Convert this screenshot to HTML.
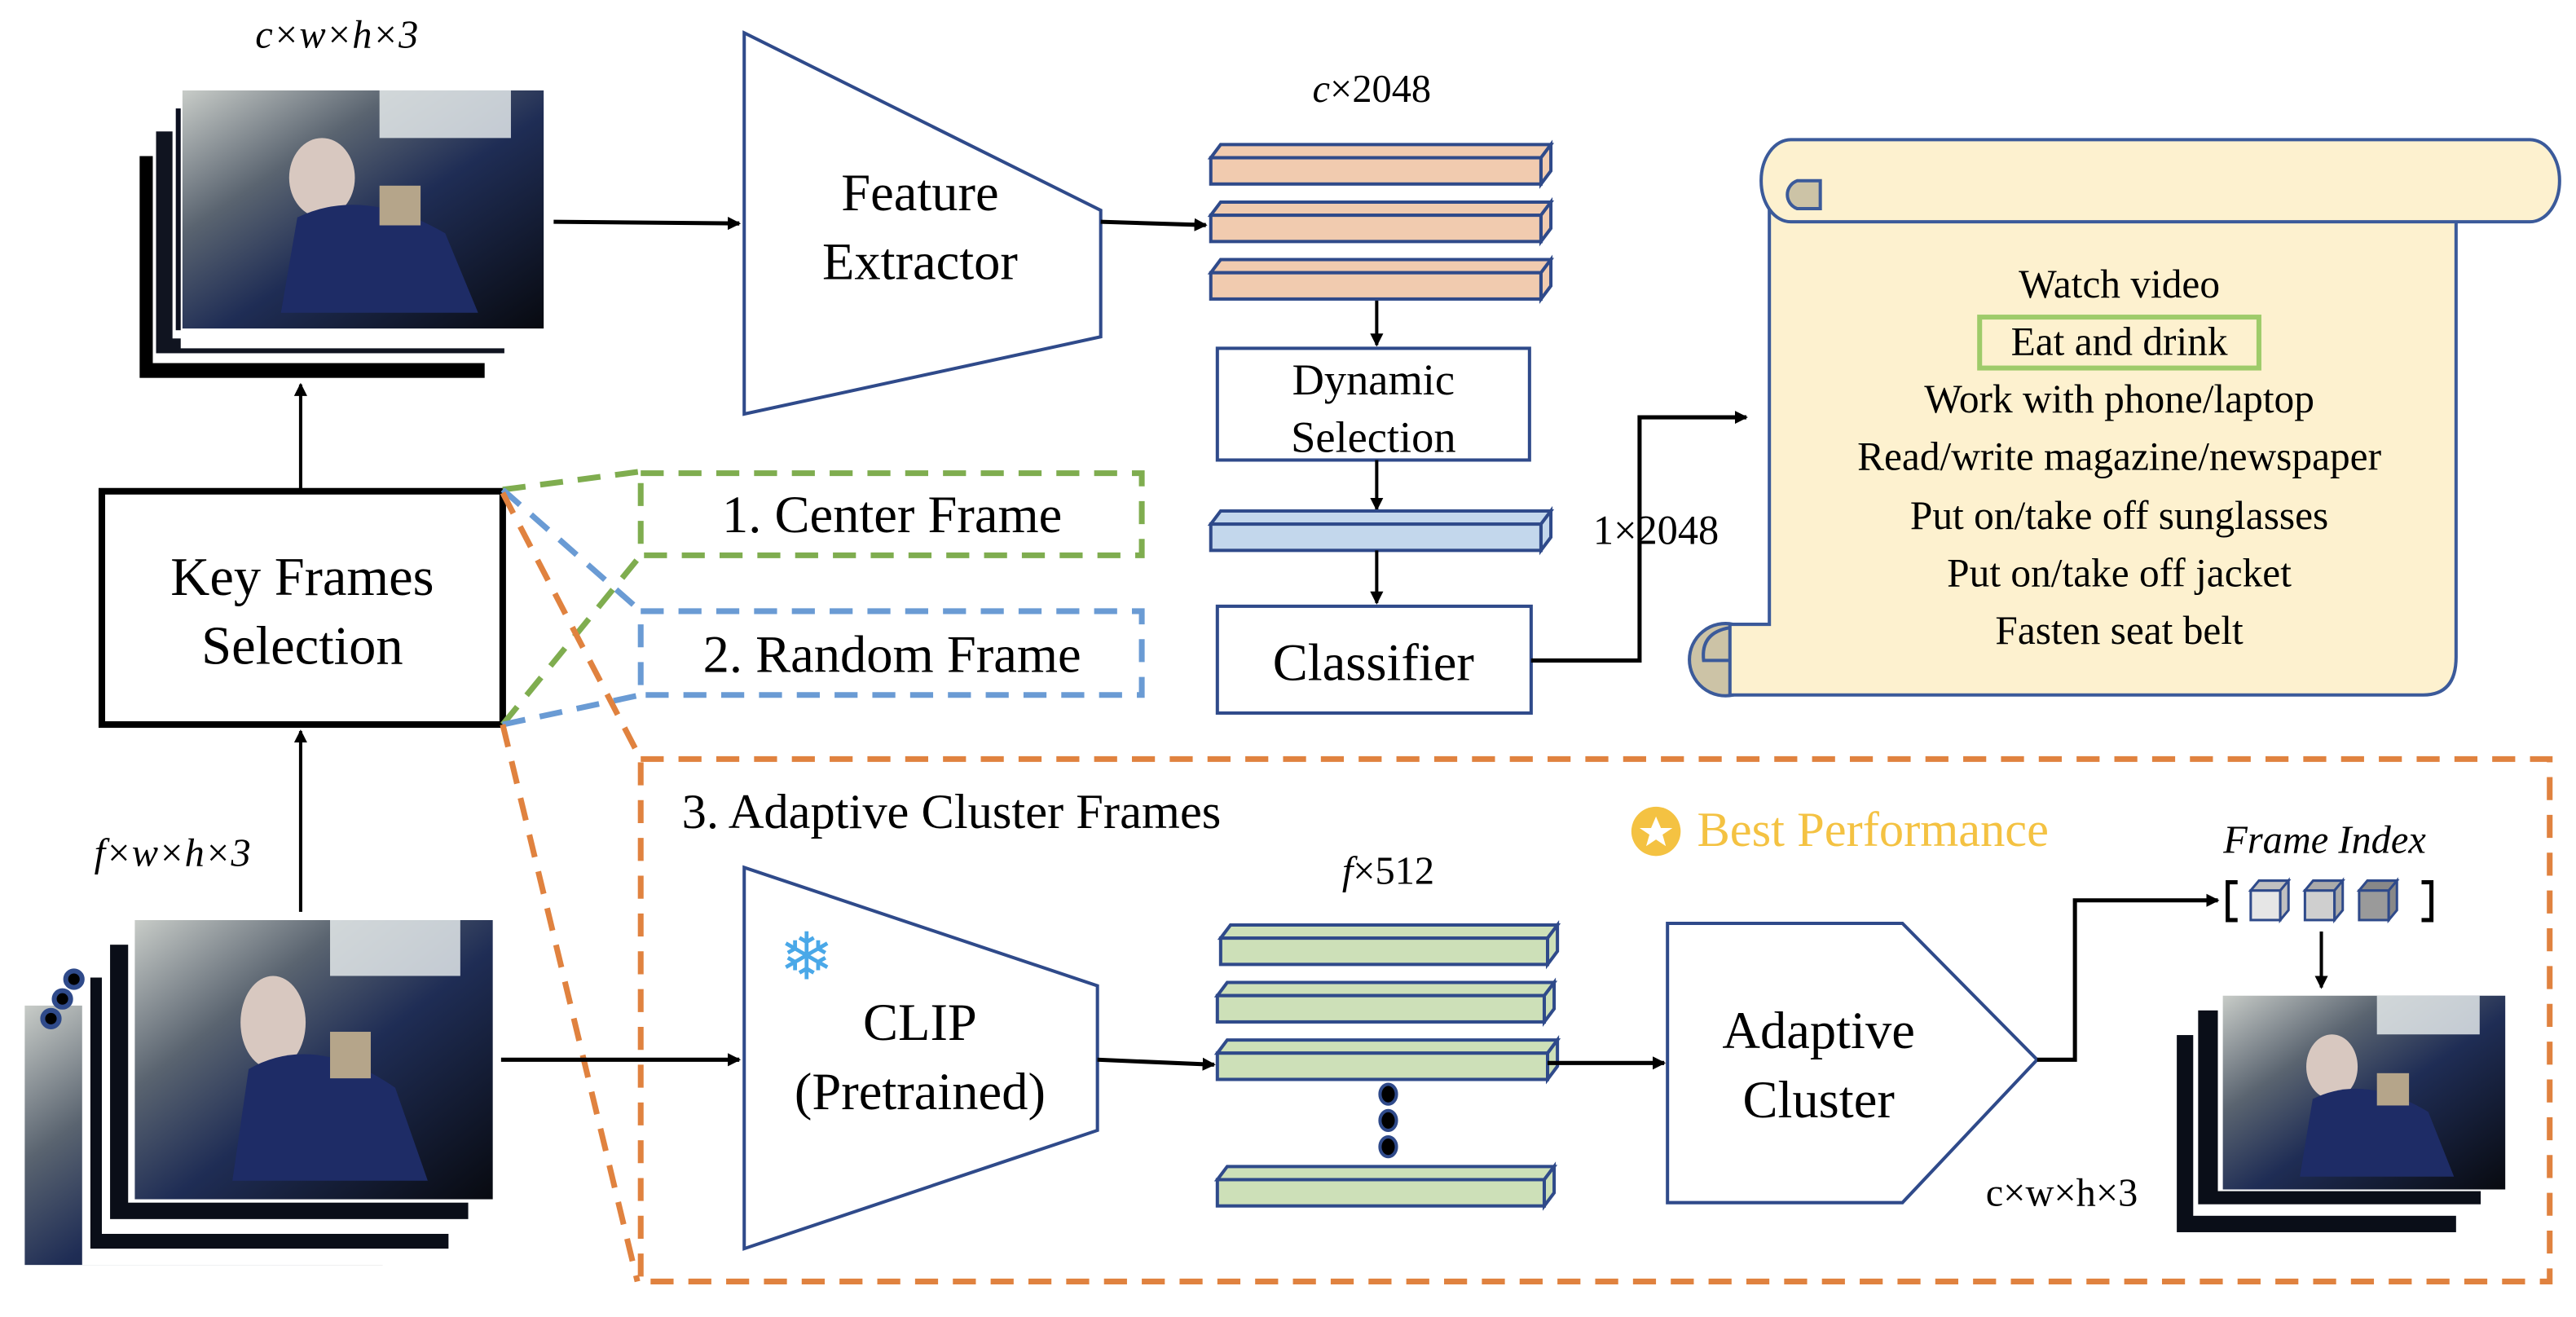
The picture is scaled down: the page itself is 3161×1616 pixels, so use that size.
<!DOCTYPE html>
<html><head><meta charset="utf-8"><style>html,body{margin:0;padding:0;background:#fff}svg{display:block}.s{font-family:"Liberation Serif",serif}.d{font-family:"DejaVu Sans",sans-serif}</style></head>
<body>
<svg width="3161" height="1616" viewBox="0 0 1568 801.6" xmlns="http://www.w3.org/2000/svg" style="font-family:'Liberation Serif',serif">
<defs>
<marker id="ah" markerWidth="8" markerHeight="8" refX="7" refY="4" orient="auto" markerUnits="userSpaceOnUse"><path d="M0,0 L8,4 L0,8 z" fill="#000"/></marker>
<linearGradient id="ph" x1="0" y1="0" x2="1" y2="1">
<stop offset="0" stop-color="#c8ccc8"/><stop offset="0.3" stop-color="#5a6470"/><stop offset="0.55" stop-color="#1f2d55"/><stop offset="1" stop-color="#080a10"/></linearGradient>
<symbol id="photo" viewBox="0 0 220 150" preserveAspectRatio="none">
<rect width="220" height="150" fill="url(#ph)"/>
<rect x="120" y="0" width="80" height="30" fill="#eef2f2" opacity="0.8"/>
<ellipse cx="85" cy="55" rx="20" ry="25" fill="#d8c8c0"/>
<path d="M70,80 Q110,60 160,90 L180,140 L60,140 Z" fill="#1e2c66"/>
<rect x="120" y="60" width="25" height="25" fill="#b5a58a"/>
</symbol>
</defs>

<g>
<rect x="85" y="95" width="210" height="135" fill="#000"/>
<rect x="93" y="88" width="210" height="133" fill="#fff"/>
<rect x="95" y="80" width="212" height="135" fill="#101420"/>
<rect x="105" y="73" width="210" height="133" fill="#fff"/>
<rect x="107" y="66" width="210" height="135" fill="#0c1020"/>
<rect x="110" y="62" width="220" height="150" fill="#fff"/>
<use href="#photo" x="111" y="55" width="220" height="145"/>
</g>
<text x="205" y="29" class="s" font-style="italic" font-size="24" text-anchor="middle">c×w×h×3</text>

<line x1="337" y1="135" x2="450" y2="136" stroke="#000" stroke-width="2.5" marker-end="url(#ah)"/>
<polygon points="453,20 670,128 670,205 453,252" fill="#fff" stroke="#2f4a8a" stroke-width="2"/>
<text x="560" y="128" class="s" font-size="32" text-anchor="middle">Feature</text>
<text x="560" y="170" class="s" font-size="32" text-anchor="middle">Extractor</text>
<line x1="670" y1="135" x2="734" y2="137" stroke="#000" stroke-width="2.5" marker-end="url(#ah)"/>
<text x="835" y="62" class="s" font-size="24" text-anchor="middle"><tspan font-style="italic">c</tspan>×2048</text>

<g stroke="#2f4a8a" stroke-width="2" fill="#f1cbaf">
<path d="M737,96 L743,88 L944,88 L938,96 Z"/><rect x="737" y="96" width="201" height="16"/><path d="M938,96 L944,88 L944,104 L938,112 Z"/>
<path d="M737,131 L743,123 L944,123 L938,131 Z"/><rect x="737" y="131" width="201" height="16"/><path d="M938,131 L944,123 L944,139 L938,147 Z"/>
<path d="M737,166 L743,158 L944,158 L938,166 Z"/><rect x="737" y="166" width="201" height="16"/><path d="M938,166 L944,158 L944,174 L938,182 Z"/>
</g>
<line x1="838" y1="183" x2="838" y2="210" stroke="#000" stroke-width="2" marker-end="url(#ah)"/>
<rect x="741" y="212" width="190" height="68" fill="#fff" stroke="#2f4a8a" stroke-width="2"/>
<text x="836" y="240" class="s" font-size="27" text-anchor="middle">Dynamic</text>
<text x="836" y="275" class="s" font-size="27" text-anchor="middle">Selection</text>
<line x1="838" y1="280" x2="838" y2="310" stroke="#000" stroke-width="2" marker-end="url(#ah)"/>
<g stroke="#2f4a8a" stroke-width="2" fill="#c3d7ec">
<path d="M737,319 L743,311 L944,311 L938,319 Z"/><rect x="737" y="319" width="201" height="16"/><path d="M938,319 L944,311 L944,327 L938,335 Z"/>
</g>
<line x1="838" y1="335" x2="838" y2="367" stroke="#000" stroke-width="2" marker-end="url(#ah)"/>
<rect x="741" y="369" width="191" height="65" fill="#fff" stroke="#2f4a8a" stroke-width="2"/>
<text x="836" y="414" class="s" font-size="32" text-anchor="middle">Classifier</text>
<polyline points="932,402 998,402 998,254 1063,254" fill="none" stroke="#000" stroke-width="2.5" marker-end="url(#ah)"/>
<text x="1008" y="331" class="s" font-size="25" text-anchor="middle">1×2048</text>

<g stroke="#3b5a9a" stroke-width="2">
<path d="M1055,380 A22,22 0 1,0 1055,423 Z" fill="#ccc3a6"/>
<path d="M1077,110 L1077,380 L1053,380 L1053,423 L1475,423 Q1495,423 1495,400 L1495,135 Z" fill="#fdf1cf"/>
<path d="M1090,85 L1540,85 A18,25 0 0,1 1540,135 L1090,135 A18,25 0 0,1 1090,85 Z" fill="#fdf1cf"/>
<path d="M1094,110 L1108,110 L1108,127 L1094,127 A9,9 0 0,1 1094,110 Z" fill="#ccc3a6"/>
<path d="M1053,382 Q1035,385 1037,402 L1053,402" fill="none"/>
</g>
<g class="s" font-size="24.5" text-anchor="middle">
<text x="1290" y="181">Watch video</text>
<text x="1290" y="216">Eat and drink</text>
<text x="1290" y="251">Work with phone/laptop</text>
<text x="1290" y="286">Read/write magazine/newspaper</text>
<text x="1290" y="322">Put on/take off sunglasses</text>
<text x="1290" y="357">Put on/take off jacket</text>
<text x="1290" y="392">Fasten seat belt</text>
</g>
<rect x="1205" y="193" width="170" height="31" fill="none" stroke="#9ecb6a" stroke-width="3"/>

<line x1="183" y1="298" x2="183" y2="234" stroke="#000" stroke-width="2" marker-end="url(#ah)"/>
<rect x="62" y="299" width="244" height="142" fill="#fff" stroke="#000" stroke-width="4"/>
<text x="184" y="362" class="s" font-size="33" text-anchor="middle">Key Frames</text>
<text x="184" y="404" class="s" font-size="33" text-anchor="middle">Selection</text>
<line x1="183" y1="555" x2="183" y2="445" stroke="#000" stroke-width="2" marker-end="url(#ah)"/>
<text x="105" y="527" class="s" font-style="italic" font-size="24" text-anchor="middle">f×w×h×3</text>

<g fill="none" stroke-width="3.5" stroke-dasharray="14,9">
<line x1="306" y1="298" x2="390" y2="287" stroke="#7fad4f"/>
<line x1="306" y1="441" x2="390" y2="338" stroke="#7fad4f"/>
<line x1="306" y1="298" x2="390" y2="372" stroke="#6a9bd4"/>
<line x1="306" y1="441" x2="390" y2="423" stroke="#6a9bd4"/>
<line x1="306" y1="300" x2="390" y2="462" stroke="#e0823f"/>
<line x1="306" y1="441" x2="388" y2="780" stroke="#e0823f"/>
<rect x="390" y="288" width="305" height="50" stroke="#7fad4f"/>
<rect x="390" y="372" width="305" height="51" stroke="#6a9bd4"/>
<rect x="390" y="462" width="1162" height="318" stroke="#e0823f"/>
</g>
<text x="543" y="324" class="s" font-size="32" text-anchor="middle">1. Center Frame</text>
<text x="543" y="409" class="s" font-size="32" text-anchor="middle">2. Random Frame</text>
<text x="415" y="504" class="s" font-size="30">3. Adaptive Cluster Frames</text>
<circle cx="1008" cy="506" r="15" fill="#f4c242"/>
<polygon points="1008,497 1011,504 1018,504 1012,508 1014,515 1008,511 1002,515 1004,508 998,504 1005,504" fill="#fff"/>
<text x="1033" y="515" class="s" font-size="30" fill="#f4c242">Best Performance</text>
<text x="1415" y="519" class="s" font-style="italic" font-size="24" text-anchor="middle">Frame Index</text>

<g>
<use href="#photo" x="15" y="612" width="218" height="158"/>
<rect x="50" y="602" width="210" height="168" fill="#fff"/>
<rect x="55" y="595" width="218" height="165" fill="#0a0e18"/>
<rect x="62" y="583" width="222" height="168" fill="#fff"/>
<rect x="67" y="575" width="218" height="167" fill="#0a0e18"/>
<rect x="78" y="567" width="222" height="165" fill="#fff"/>
<use href="#photo" x="82" y="560" width="218" height="170"/>
<circle cx="31" cy="620" r="5" fill="#000" stroke="#2f4a8a" stroke-width="3"/>
<circle cx="38" cy="608" r="5" fill="#000" stroke="#2f4a8a" stroke-width="3"/>
<circle cx="45" cy="596" r="5" fill="#000" stroke="#2f4a8a" stroke-width="3"/>
</g>
<line x1="305" y1="645" x2="450" y2="645" stroke="#000" stroke-width="2.5" marker-end="url(#ah)"/>

<polygon points="453,528 668,600 668,688 453,760" fill="#fff" stroke="#2f4a8a" stroke-width="2"/>
<text x="560" y="633" class="s" font-size="32" text-anchor="middle">CLIP</text>
<text x="560" y="675" class="s" font-size="32" text-anchor="middle">(Pretrained)</text>
<text x="491" y="596" font-size="40" fill="#4aa8e8" text-anchor="middle" class="d">❄</text>
<text x="1043" y="606" font-size="40" fill="#4aa8e8" text-anchor="middle" class="d">❄</text>
<line x1="668" y1="645" x2="739" y2="648" stroke="#000" stroke-width="2.5" marker-end="url(#ah)"/>
<text x="845" y="538" class="s" font-size="24" text-anchor="middle"><tspan font-style="italic">f</tspan>×512</text>
<g stroke="#2f4a8a" stroke-width="2" fill="#cde0b8">
<path d="M743,571 L749,563 L948,563 L942,571 Z"/><rect x="743" y="571" width="199" height="16"/><path d="M942,571 L948,563 L948,579 L942,587 Z"/>
<path d="M741,606 L747,598 L946,598 L940,606 Z"/><rect x="741" y="606" width="199" height="16"/><path d="M940,606 L946,598 L946,614 L940,622 Z"/>
<path d="M741,641 L747,633 L948,633 L942,641 Z"/><rect x="741" y="641" width="201" height="16"/><path d="M942,641 L948,633 L948,649 L942,657 Z"/>
<path d="M741,718 L747,710 L946,710 L940,718 Z"/><rect x="741" y="718" width="199" height="16"/><path d="M940,718 L946,710 L946,726 L940,734 Z"/>
</g>
<ellipse cx="845" cy="666" rx="5" ry="6" fill="#000" stroke="#2f4a8a" stroke-width="2"/>
<ellipse cx="845" cy="682" rx="5" ry="6" fill="#000" stroke="#2f4a8a" stroke-width="2"/>
<ellipse cx="845" cy="698" rx="5" ry="6" fill="#000" stroke="#2f4a8a" stroke-width="2"/>
<line x1="942" y1="647" x2="1013" y2="647" stroke="#000" stroke-width="2.5" marker-end="url(#ah)"/>
<polygon points="1015,562 1158,562 1240,645 1158,732 1015,732" fill="#fff" stroke="#2f4a8a" stroke-width="2"/>
<text x="1107" y="638" class="s" font-size="32" text-anchor="middle">Adaptive</text>
<text x="1107" y="680" class="s" font-size="32" text-anchor="middle">Cluster</text>
<polyline points="1240,645 1263,645 1263,548 1350,548" fill="none" stroke="#000" stroke-width="2.5" marker-end="url(#ah)"/>

<path d="M1362,537 L1356,537 L1356,560 L1362,560" fill="none" stroke="#000" stroke-width="2.5"/>
<path d="M1474,537 L1480,537 L1480,560 L1474,560" fill="none" stroke="#000" stroke-width="2.5"/>
<g stroke="#2f4a8a" stroke-width="1.5">
<rect x="1370" y="542" width="18" height="18" fill="#e6e6e6"/><path d="M1370,542 L1375,536 L1393,536 L1388,542 Z M1388,542 L1393,536 L1393,554 L1388,560 Z" fill="#c0c0c0"/>
<rect x="1403" y="542" width="18" height="18" fill="#cfcfcf"/><path d="M1403,542 L1408,536 L1426,536 L1421,542 Z M1421,542 L1426,536 L1426,554 L1421,560 Z" fill="#aaa"/>
<rect x="1436" y="542" width="18" height="18" fill="#9a9a9a"/><path d="M1436,542 L1441,536 L1459,536 L1454,542 Z M1454,542 L1459,536 L1459,554 L1454,560 Z" fill="#888"/>
</g>
<line x1="1413" y1="567" x2="1413" y2="601" stroke="#000" stroke-width="2" marker-end="url(#ah)"/>

<g>
<rect x="1325" y="630" width="170" height="120" fill="#0a0e18"/>
<rect x="1335" y="622" width="175" height="118" fill="#fff"/>
<rect x="1338" y="615" width="172" height="118" fill="#0a0e18"/>
<rect x="1350" y="610" width="175" height="115" fill="#fff"/>
<use href="#photo" x="1353" y="606" width="172" height="118"/>
</g>
<text x="1255" y="734" class="s" font-size="24" text-anchor="middle">c×w×h×3</text>
</svg>
</body></html>
